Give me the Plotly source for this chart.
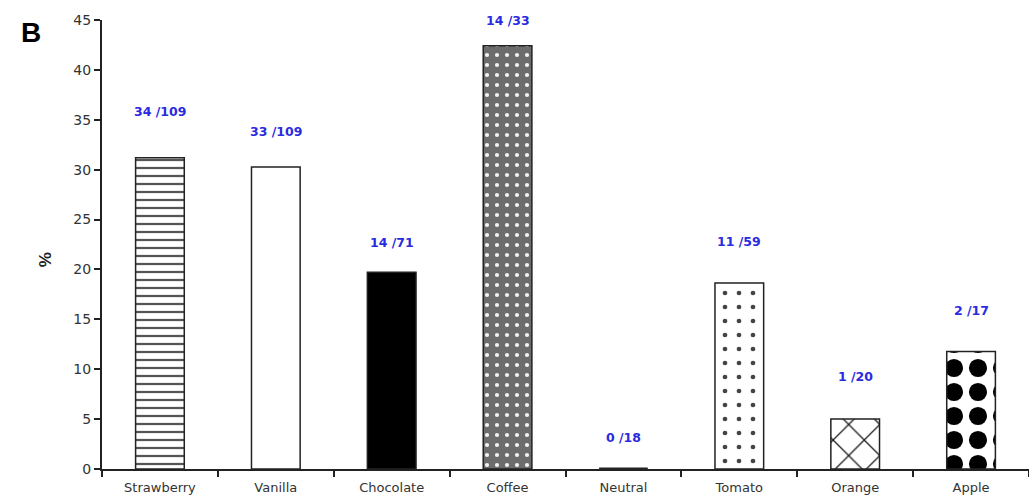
import plotly.graph_objects as go

# Responders / total per flavour
categories = ["Strawberry", "Vanilla", "Chocolate", "Coffee",
              "Neutral", "Tomato", "Orange", "Apple"]
responders = [34, 33, 14, 14, 0, 11, 1, 2]
totals = [109, 109, 71, 33, 18, 59, 20, 17]

# Height (in %) of each count label
label_y = [35.8, 33.8, 22.7, 45.0, 3.2, 22.8, 9.3, 15.9]

percent = [100.0 * r / t for r, t in zip(responders, totals)]
labels = [f"{r} /{t}" for r, t in zip(responders, totals)]

# Fill style per bar: (shape, fg, bg, size, solidity)
fills = [
    ("-", "#555555", "white", 8, 0.28),
    ("", "white", "white", 8, 0.3),
    ("", "black", "black", 8, 0.3),
    (".", "#f2f2f2", "#6c6c6c", 10, 0.14),
    ("", "black", "black", 8, 0.3),
    (".", "#444444", "white", 14, 0.09),
    ("x", "#222222", "white", 22, 0.12),
    (".", "black", "white", 24, 0.45),
]
# Outline width per bar (the empty Neutral bar shows only its outline)
outline_w = [1.5, 1.5, 1.5, 1.5, 3, 1.5, 1.5, 1.5]

fig = go.Figure()
for cat, val, (shape, fg, bg, size, sol), lw in zip(categories, percent,
                                                    fills, outline_w):
    pattern = dict(shape=shape)
    if shape:
        pattern.update(fgcolor=fg, bgcolor=bg, size=size, solidity=sol,
                       fillmode="replace")
    fig.add_trace(
        go.Bar(
            x=[cat], y=[val], width=0.42,
            marker=dict(color=bg, line=dict(color="#222222", width=lw),
                        pattern=pattern),
            hoverinfo="skip",
        )
    )

for cat, txt, ly in zip(categories, labels, label_y):
    fig.add_annotation(
        x=cat, y=ly, text=f"<b>{txt}</b>", showarrow=False,
        font=dict(family="DejaVu Sans", size=12.5, color="#2a2ae0"),
        xanchor="center", yanchor="middle",
    )

# Panel letter and y-axis title
fig.add_annotation(
    xref="paper", yref="paper", x=0, y=1, xshift=-71, yshift=-12,
    text="<b>B</b>", showarrow=False,
    font=dict(family="Liberation Sans, Arial", size=28, color="black"),
    xanchor="center", yanchor="middle",
)
fig.add_annotation(
    xref="paper", yref="paper", x=0, y=0.465, xshift=-57,
    text="<b>%</b>", textangle=-90, showarrow=False,
    font=dict(family="Liberation Sans, Arial", size=17, color="#222222"),
    xanchor="center", yanchor="middle",
)

fig.update_layout(
    width=1029, height=504,
    margin=dict(l=102, r=0, t=20, b=35),
    paper_bgcolor="white", plot_bgcolor="white",
    showlegend=False,
    barmode="overlay",
    font=dict(family="DejaVu Sans", color="#333333"),
)
fig.update_xaxes(
    range=[-0.5, 7.5],
    categoryorder="array", categoryarray=categories,
    showline=True, linecolor="#222222", linewidth=2,
    ticks="outside", tickson="boundaries", ticklen=6, tickwidth=1.5,
    tickcolor="#222222", ticklabelstandoff=5,
    tickfont=dict(family="DejaVu Sans", size=13, color="#333333"),
    showgrid=False, zeroline=False,
)
fig.update_yaxes(
    range=[0, 45], dtick=5,
    showline=True, linecolor="#222222", linewidth=2,
    ticks="outside", ticklen=6, tickwidth=1.5, tickcolor="#222222",
    tickfont=dict(family="DejaVu Sans", size=14, color="#333333"),
    showgrid=False, zeroline=False,
)

fig.write_html("out.html")
